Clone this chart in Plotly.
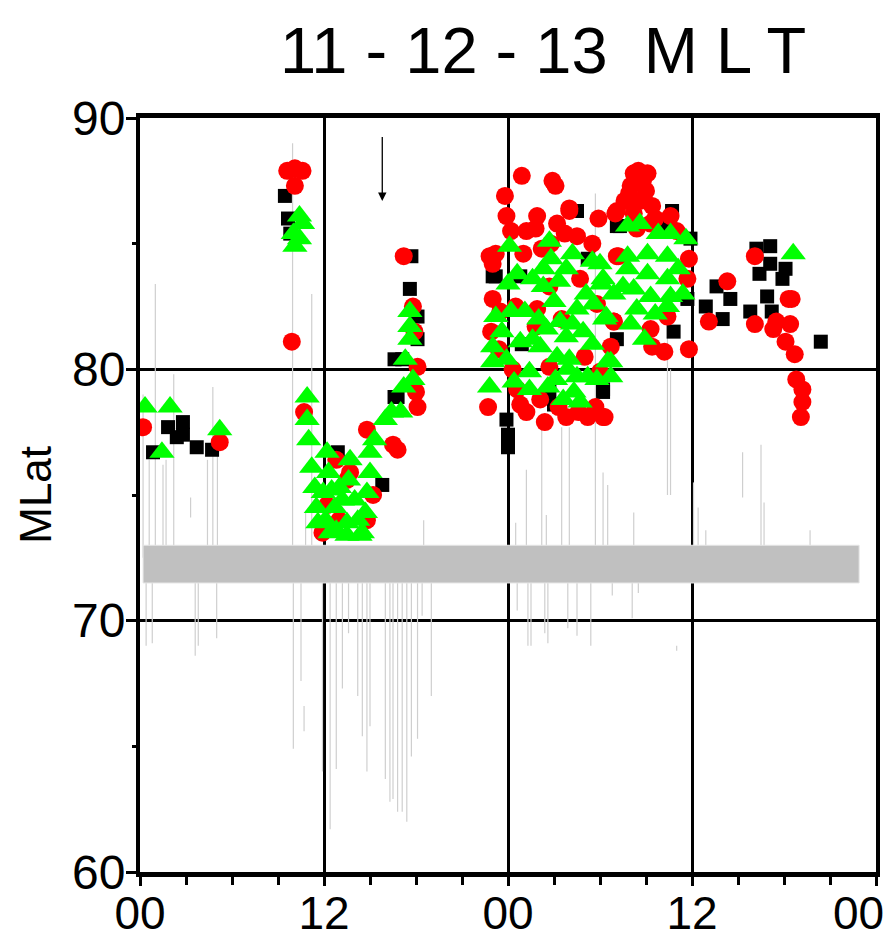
import plotly.graph_objects as go

# ---------------- data (hours of MLT over two days, magnetic latitude) ----------------
sq_x = [0.85, 1.83, 2.8, 2.4, 2.8, 3.7, 4.7,
        9.45, 9.65, 9.8,
        17.7, 17.6, 18.1, 18.1, 17.1, 16.6, 15.8, 12.9, 16.8, 16.6,
        28.5, 23.0, 24.8, 23.2, 23.9, 24.0, 24.0, 29.2, 31.1, 26.7, 30.2, 31.1, 24.9, 27.0,
        34.7, 34.1, 35.9, 35.7, 34.8, 31.3, 30.2, 36.9, 37.6,
        38.0, 38.5, 39.8, 40.2, 41.1, 40.4, 41.1, 40.9, 41.2, 41.9, 42.1, 44.4]
sq_y = [76.7, 77.7, 77.9, 77.3, 77.4, 76.9, 76.8,
        86.9, 86.0, 85.4,
        84.5, 83.2, 82.1, 81.2, 80.4, 78.9, 75.4, 76.7, 78.9, 80.4,
        86.3, 83.7, 83.7, 83.7, 78.0, 77.4, 76.9, 84.4, 85.7, 79.1, 79.1, 81.2, 81.0, 78.6,
        86.3, 85.7, 85.2, 82.8, 81.5, 85.7, 79.2, 82.5, 83.3,
        82.0, 82.8, 82.3, 84.8, 84.9, 83.8, 84.2, 82.9, 82.3, 83.6, 84.0, 81.1]

circ_x = [0.2, 5.2,
          9.6, 10.6, 10.1, 9.9, 10.1,
          17.2, 10.7, 12.8, 13.7, 14.8, 16.8, 18.1, 18.1, 18.0, 11.9, 14.8, 13.5, 17.9, 16.5,
          12.2, 13.0, 15.2, 17.8,
          24.9, 27.1, 23.8, 23.9, 25.9, 28.0, 25.8, 27.2, 27.7, 23.2, 25.0, 23.0, 29.5, 31.1,
          31.1, 28.7, 23.0, 23.5, 26.7, 25.9, 30.9, 30.7, 22.7, 24.8, 26.1, 26.4, 27.8, 29.2,
          30.2, 26.7, 30.0, 25.8, 22.8, 24.3, 27.5, 29.0, 26.8, 22.9,
          24.2, 25.2, 26.2, 28.5, 29.9, 23.4, 24.6, 25.2, 27.3, 28.6, 29.7, 24.5, 29.8, 26.9,
          28.0,
          32.2, 33.1, 32.0, 33.0, 31.6, 32.6, 33.4, 31.0, 32.2, 33.3, 31.2, 34.6, 35.0, 35.8,
          35.7, 34.4, 33.3, 33.4, 34.2, 35.8, 37.1, 30.9, 30.3, 32.8, 32.5, 31.9, 32.4, 33.6,
          38.3, 40.1, 40.1, 41.3, 42.3, 42.5, 42.4, 42.1, 42.7, 42.8, 43.2, 43.2, 43.1, 41.5]
circ_y = [77.7, 77.1,
          87.9, 87.9, 87.3, 81.1, 88.0,
          84.5, 78.3, 76.4, 75.9, 77.6, 76.8, 80.1, 78.5, 79.1, 73.5, 74.0, 75.6, 81.5, 77.0,
          74.6, 74.0, 75.0, 82.5,
          87.7, 87.3, 86.9, 86.1, 86.1, 86.4, 85.6, 85.8, 85.4, 84.6, 84.6, 84.2, 85.0, 86.3,
          84.5, 83.6, 82.8, 82.3, 83.3, 82.4, 81.9, 80.9, 78.5, 78.6, 78.8, 77.9, 78.1, 78.1,
          78.1, 80.1, 79.9, 81.7, 84.5, 80.0, 82.0, 80.5, 85.0, 81.5,
          85.5, 85.5, 84.8, 85.3, 86.0, 80.8, 79.2, 78.3, 78.5, 78.3, 78.5, 82.5, 82.6, 87.5,
          86.3,
          87.8, 87.8, 87.3, 87.1, 86.7, 86.7, 86.5, 86.2, 86.2, 85.8, 84.5, 86.1, 85.5, 84.4,
          83.6, 82.1, 81.6, 80.9, 80.7, 80.8, 81.9, 81.9, 78.1, 87.5, 87.9, 87.0, 85.6, 86.0,
          83.5, 84.5, 81.8, 81.6, 82.8, 82.8, 81.8, 81.1, 80.6, 79.6, 79.2, 78.7, 78.1, 81.9]

tri_x = [0.33, 1.96, 1.43, 5.2,
         10.4, 10.4, 10.1, 10.6, 10.0,
         17.6, 17.6, 17.6, 17.3, 17.8, 17.2, 17.0, 16.4, 16.0, 15.3, 15.0, 15.0, 14.8, 14.7,
         13.7, 13.6, 13.2, 13.5, 14.2, 14.5, 12.2, 12.3, 11.95, 12.1, 12.7, 12.8, 10.9, 10.9,
         11.0, 11.2, 11.4, 11.5, 11.6, 12.4, 13.5, 14.35, 12.5, 13.0, 14.0,
         24.1, 26.7, 28.2, 30.0, 24.0, 26.3, 26.3, 27.8, 29.1, 30.1, 23.2, 25.1, 27.0, 28.5,
         30.3, 23.0, 24.8, 27.8, 28.9, 23.0, 23.9, 25.4, 28.0, 28.5, 30.5, 22.8, 25.4, 28.3,
         28.7, 27.6, 26.1, 27.9, 28.2, 26.0, 24.4,
         24.6, 25.6, 26.8, 27.3, 29.5, 29.6, 25.6, 26.5, 27.2, 29.5, 29.8, 24.2, 23.6, 27.1,
         26.6, 29.2, 27.4,
         31.8, 32.6, 34.6, 35.6, 31.8, 33.1, 34.4, 31.8, 30.2, 33.1, 34.4, 32.2, 30.9, 33.3,
         34.6, 32.4, 34.4, 30.4, 32.9, 30.7, 30.7, 31.5, 33.8, 35.1, 35.4, 32.0, 33.6,
         42.6]
tri_y = [78.5, 78.5, 76.7, 77.6,
         86.1, 85.2, 84.9, 85.8, 85.4,
         82.3, 81.7, 81.2, 80.4, 79.6, 79.3, 78.3, 78.3, 78.0, 77.2, 76.7, 75.9, 75.1, 74.3,
         76.4, 75.6, 74.8, 73.9, 74.0, 73.5, 76.7, 75.9, 75.1, 74.0, 74.5, 73.6, 78.9, 78.0,
         77.2, 76.1, 75.3, 74.5, 73.9, 73.5, 73.4, 73.4, 75.2, 75.3, 74.8,
         84.9, 85.1, 84.6, 84.2, 83.4, 84.0, 83.3, 84.0, 83.0, 83.4, 82.1, 82.3, 82.7, 82.4,
         82.0, 80.9, 81.1, 81.3, 81.5, 80.3, 80.4, 79.9, 80.4, 79.7, 80.3, 79.3, 79.2, 79.1,
         78.7, 78.8, 80.9, 80.0, 81.8, 82.0, 79.5,
         83.8, 83.6, 84.4, 83.5, 84.3, 82.6, 81.2, 81.6, 80.5, 81.0, 79.6, 82.3, 81.5, 79.6,
         79.3, 79.7, 81.9,
         85.7, 85.8, 85.4, 85.2, 84.5, 84.6, 84.5, 84.0, 83.6, 83.8, 83.6, 83.2, 83.0, 82.9,
         82.9, 82.4, 82.5, 82.1, 81.2, 80.3, 79.7, 83.3, 85.4, 84.0, 83.0, 81.8, 82.2,
         84.6]

# thin grey trace: vertical excursions (x, from, to)
gray_x = [0.2, 0.6, 1.0, 1.5, 1.7, 2.2, 3.3, 4.4, 4.75, 5.05,
          0.4, 0.8, 3.6, 3.8, 5.0,
          9.95, 11.2, 10.8, 18.5,
          10.0, 10.5, 10.7, 11.9, 12.4, 12.8, 13.2, 13.6, 14.2, 14.5, 14.8, 15.0, 16.0, 16.3,
          16.5, 16.8, 17.1, 17.4, 17.7, 18.1, 18.4, 19.0,
          24.5, 25.2, 26.2, 26.5, 27.5, 28.0, 29.7, 30.2, 30.5, 32.2, 34.4, 34.6,
          24.6, 25.3, 25.5, 26.4, 26.6, 27.9, 28.5, 29.4, 30.8, 32.1, 32.5, 35.0,
          36.1, 36.4, 36.9, 39.3, 40.5, 40.7, 43.7]
gray_y0 = [72.5, 72.5, 72.5, 72.5, 72.5, 72.5, 74.1, 72.5, 72.5, 72.5,
           69.0, 69.1, 68.6, 69.0, 69.3,
           72.5, 72.5, 72.5, 72.5,
           64.9, 67.6, 65.6, 64.0, 61.7, 64.1, 67.3, 69.5, 67.0, 65.4, 64.0, 65.8, 63.7, 62.8,
           62.9, 62.4, 62.4, 62.0, 64.6, 65.3, 70.2, 67.0,
           72.5, 72.5, 72.5, 72.5, 72.5, 72.5, 72.5, 72.5, 72.5, 72.5, 75.0, 75.0,
           70.4, 69.0, 69.0, 69.5, 69.1, 69.7, 69.4, 69.0, 71.0, 70.1, 71.1, 68.8,
           72.5, 72.5, 72.5, 74.9, 72.5, 72.5, 72.5]
gray_y1 = [79.0, 76.4, 83.4, 76.2, 76.4, 79.8, 74.9, 76.4, 79.3, 76.9,
           72.0, 72.0, 72.0, 72.0, 72.0,
           89.0, 83.0, 74.3, 74.0,
           72.0, 72.0, 66.6, 72.0, 72.0, 72.0, 72.0, 72.0, 72.0, 72.0, 72.0, 72.0, 72.0, 72.0,
           72.0, 72.0, 72.0, 72.0, 72.0, 72.0, 72.0, 72.0,
           73.9, 76.0, 77.6, 74.2, 77.7, 77.7, 87.0, 75.9, 75.4, 74.3, 81.3, 80.0,
           72.0, 72.0, 72.0, 72.0, 72.0, 72.0, 72.0, 72.0, 72.0, 72.0, 72.0, 69.0,
           75.5, 74.5, 73.6, 76.7, 77.0, 74.7, 73.6]

x_tickvals = [0, 12, 24, 36, 48]
# last label padded on the right so it stays inside the page, as in the original
x_ticktext = ["00", "12", "00", "12", "00\u2007\u2009"]
x_minor = [3, 6, 9, 15, 18, 21, 27, 30, 33, 39, 42, 45]
y_tickvals = [60, 70, 80, 90]
y_minor = [65, 75, 85]
band_lat = [71.5, 73.0]
band_end = 46.9
arrow_x = 15.8
arrow_lat = [89.3, 86.7]

title_text = "11 - 12 - 13  M L T"
ylabel = "MLat"

FONT = "Liberation Sans, Arial, sans-serif"

# ---------------- build grey segments ----------------
gx, gy = [], []
for x, a, b in zip(gray_x, gray_y0, gray_y1):
    gx += [x, x, None]
    gy += [a, b, None]

fig = go.Figure()
fig.add_trace(go.Scatter(x=gx, y=gy, mode="lines",
                         line=dict(color="#cfcfcf", width=1.2), hoverinfo="skip"))
fig.add_trace(go.Scatter(x=sq_x, y=sq_y, mode="markers",
                         marker=dict(symbol="square", size=14, color="black", line=dict(width=0))))
fig.add_trace(go.Scatter(x=circ_x, y=circ_y, mode="markers",
                         marker=dict(symbol="circle", size=18, color="#ff0000", line=dict(width=0))))
fig.add_trace(go.Scatter(x=tri_x, y=tri_y, mode="markers",
                         marker=dict(symbol="triangle-up", size=22, color="#00ff00", line=dict(width=0))))

fig.add_shape(type="rect", xref="x", yref="y", x0=0.2, x1=band_end,
              y0=band_lat[0], y1=band_lat[1], fillcolor="#c0c0c0",
              line=dict(color="#e6e6e6", width=1), layer="above")

fig.add_annotation(x=arrow_x, y=arrow_lat[1], ax=arrow_x, ay=arrow_lat[0],
                   xref="x", yref="y", axref="x", ayref="y", text="",
                   showarrow=True, arrowhead=2, arrowsize=1.3, arrowwidth=1.3,
                   arrowcolor="black")

# page body adds an 8 px margin, so the figure is offset by 8 px
fig.add_annotation(text=title_text, xref="paper", yref="paper", x=0.548, y=1.09,
                   xanchor="center", yanchor="middle", showarrow=False,
                   font=dict(family=FONT, size=65, color="black"))
fig.add_annotation(text=ylabel, xref="paper", yref="paper", x=-0.143, y=0.5,
                   xanchor="center", yanchor="middle", showarrow=False, textangle=-90,
                   font=dict(family=FONT, size=44, color="black"))

fig.update_xaxes(range=[0, 48], tickmode="array", tickvals=x_tickvals, ticktext=x_ticktext,
                 ticks="outside", ticklen=9, tickwidth=3, tickcolor="black",
                 showline=True, linewidth=5, linecolor="black", mirror=True,
                 showgrid=True, gridcolor="black", gridwidth=3, zeroline=False,
                 automargin=False, ticklabeloverflow="allow", ticklabelstandoff=-12,
                 minor=dict(tickvals=x_minor, ticks="outside", ticklen=8, tickwidth=3,
                            tickcolor="black", showgrid=False),
                 tickfont=dict(family=FONT, size=46, color="black"))
fig.update_yaxes(range=[60, 90], tickmode="array", tickvals=y_tickvals,
                 ticks="outside", ticklen=10, tickwidth=3, tickcolor="black",
                 showline=True, linewidth=4, linecolor="black", mirror=True,
                 showgrid=True, gridcolor="black", gridwidth=3, zeroline=False,
                 automargin=False, ticklabeloverflow="allow", ticklabelstandoff=-9,
                 minor=dict(tickvals=y_minor, ticks="outside", ticklen=4, tickwidth=3,
                            tickcolor="black", showgrid=False),
                 tickfont=dict(family=FONT, size=48, color="black"))

fig.update_layout(width=886, height=941, showlegend=False,
                  margin=dict(l=132, r=18, t=110, b=77),
                  paper_bgcolor="white", plot_bgcolor="white")

fig.write_html("out.html")
